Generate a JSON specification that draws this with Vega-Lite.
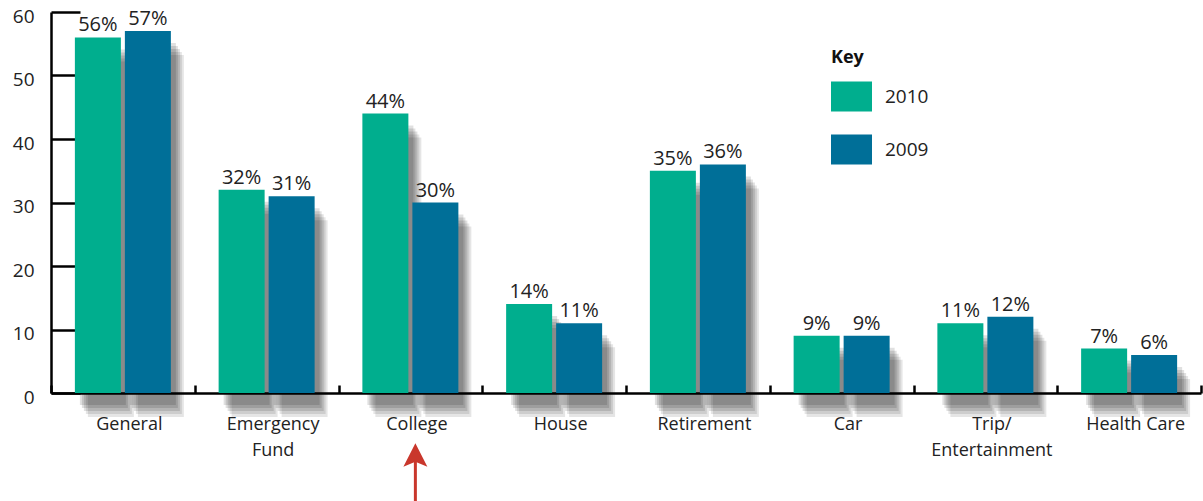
{
  "$schema": "https://vega.github.io/schema/vega-lite/v6.json",
  "width": 1150,
  "height": 381,
  "autosize": "none",
  "padding": {"left": 51, "top": 12, "right": 2, "bottom": 108},
  "config": {"view": {"stroke": null}, "font": "Open Sans"},
  "resolve": {"scale": {"xOffset": "independent"}},
  "datasets": {
    "bars": [
      {"category": "General", "year": "2010", "value": 56},
      {"category": "General", "year": "2009", "value": 57},
      {"category": "Emergency|Fund", "year": "2010", "value": 32},
      {"category": "Emergency|Fund", "year": "2009", "value": 31},
      {"category": "College", "year": "2010", "value": 44},
      {"category": "College", "year": "2009", "value": 30},
      {"category": "House", "year": "2010", "value": 14},
      {"category": "House", "year": "2009", "value": 11},
      {"category": "Retirement", "year": "2010", "value": 35},
      {"category": "Retirement", "year": "2009", "value": 36},
      {"category": "Car", "year": "2010", "value": 9},
      {"category": "Car", "year": "2009", "value": 9},
      {"category": "Trip/|Entertainment", "year": "2010", "value": 11},
      {"category": "Trip/|Entertainment", "year": "2009", "value": 12},
      {"category": "Health Care", "year": "2010", "value": 7},
      {"category": "Health Care", "year": "2009", "value": 6}
    ],
    "arrowShaft": [{"category": "College", "value": -10.6, "value2": -18}],
    "arrowHead": [{"category": "College", "value": -9.8}]
  },
  "layer": [
    {
      "data": {"name": "bars"},
      "mark": {"type": "bar", "color": "#000000", "opacity": 0.1, "yOffset": 24, "y2Offset": 17},
      "encoding": {
        "x": {"field": "category", "type": "nominal", "sort": null},
        "xOffset": {"field": "year", "sort": ["2010", "2009"], "scale": {"paddingInner": 0.08, "paddingOuter": 0.4775, "align": 0.772}},
        "y": {"field": "value", "type": "quantitative"}
      }
    },
    {
      "data": {"name": "bars"},
      "mark": {"type": "bar", "color": "#000000", "opacity": 0.1, "yOffset": 21, "y2Offset": 13},
      "encoding": {
        "x": {"field": "category", "type": "nominal", "sort": null},
        "xOffset": {"field": "year", "sort": ["2010", "2009"], "scale": {"paddingInner": 0.08, "paddingOuter": 0.4775, "align": 0.73}},
        "y": {"field": "value", "type": "quantitative"}
      }
    },
    {
      "data": {"name": "bars"},
      "mark": {"type": "bar", "color": "#000000", "opacity": 0.12, "yOffset": 18, "y2Offset": 9},
      "encoding": {
        "x": {"field": "category", "type": "nominal", "sort": null},
        "xOffset": {"field": "year", "sort": ["2010", "2009"], "scale": {"paddingInner": 0.08, "paddingOuter": 0.4775, "align": 0.689}},
        "y": {"field": "value", "type": "quantitative"}
      }
    },
    {
      "data": {"name": "bars"},
      "mark": {"type": "bar", "color": "#000000", "opacity": 0.12, "yOffset": 15, "y2Offset": 5},
      "encoding": {
        "x": {"field": "category", "type": "nominal", "sort": null},
        "xOffset": {"field": "year", "sort": ["2010", "2009"], "scale": {"paddingInner": 0.08, "paddingOuter": 0.4775, "align": 0.647}},
        "y": {"field": "value", "type": "quantitative"}
      }
    },
    {
      "data": {"name": "bars"},
      "mark": {"type": "bar", "color": "#000000", "opacity": 0.12, "yOffset": 12, "y2Offset": 1},
      "encoding": {
        "x": {"field": "category", "type": "nominal", "sort": null},
        "xOffset": {"field": "year", "sort": ["2010", "2009"], "scale": {"paddingInner": 0.08, "paddingOuter": 0.4775, "align": 0.605}},
        "y": {"field": "value", "type": "quantitative"}
      }
    },
    {
      "data": {"name": "bars"},
      "mark": {"type": "bar", "opacity": 1},
      "encoding": {
        "x": {
          "field": "category", "type": "nominal", "sort": null,
          "scale": {"paddingInner": 0, "paddingOuter": 0},
          "axis": {
            "title": null, "domainColor": "#000000", "domainWidth": 2.5,
            "tickColor": "#000000", "tickWidth": 2.5, "tickSize": -8, "tickBand": "extent",
            "labelFontSize": 18, "labelColor": "#222222", "labelPadding": 39, "labelAngle": 0, "labelAlign": "center",
            "labelOffset": 6,
            "labelExpr": "split(datum.label, '|')", "labelLineHeight": 26
          }
        },
        "xOffset": {"field": "year", "sort": ["2010", "2009"], "scale": {"paddingInner": 0.08, "paddingOuter": 0.4775}},
        "y": {
          "field": "value", "type": "quantitative",
          "scale": {"domain": [0, 60], "nice": false},
          "axis": {
            "title": null, "values": [0, 10, 20, 30, 40, 50, 60], "grid": false,
            "domainColor": "#000000", "domainWidth": 2.5,
            "tickColor": "#000000", "tickWidth": 2.5, "tickSize": -29,
            "labelFontSize": 19, "labelColor": "#222222", "labelPadding": 46, "labelOffset": 4
          }
        },
        "color": {
          "field": "year", "type": "nominal",
          "scale": {"domain": ["2010", "2009"], "range": ["#00AE8E", "#006F98"]},
          "legend": {
            "title": "Key", "orient": "none", "legendX": 780, "legendY": 37, "padding": 0,
            "titleFontSize": 18, "titleFontWeight": "bold", "titleColor": "#111111", "titlePadding": 9,
            "symbolType": "M-1,-0.73H1V0.73H-1Z", "symbolSize": 1681, "symbolStrokeWidth": 0, "symbolOpacity": 1,
            "labelFontSize": 19, "labelColor": "#222222", "labelOffset": 13, "rowPadding": 17
          }
        }
      }
    },
    {
      "data": {"name": "bars"},
      "mark": {"type": "text", "fontSize": 20, "color": "#222222", "baseline": "alphabetic", "dy": -6, "text": {"expr": "datum.value + '%'"}},
      "encoding": {
        "x": {"field": "category", "type": "nominal", "sort": null},
        "xOffset": {"field": "year", "sort": ["2010", "2009"], "scale": {"type": "band", "paddingInner": 0.08, "paddingOuter": 0.4775}},
        "y": {"field": "value", "type": "quantitative"}
      }
    },
    {
      "data": {"name": "arrowShaft"},
      "mark": {"type": "rule", "color": "#C9372C", "strokeWidth": 3, "xOffset": 5},
      "encoding": {
        "x": {"field": "category", "type": "nominal", "sort": null},
        "y": {"field": "value", "type": "quantitative"},
        "y2": {"field": "value2"}
      }
    },
    {
      "data": {"name": "arrowHead"},
      "mark": {"type": "point", "shape": "M0,-1L1,0.95L0,0.55L-1,0.95Z", "size": 576, "filled": true, "opacity": 1, "color": "#C9372C", "strokeWidth": 0, "xOffset": 5},
      "encoding": {
        "x": {"field": "category", "type": "nominal", "sort": null},
        "y": {"field": "value", "type": "quantitative"}
      }
    }
  ]
}
